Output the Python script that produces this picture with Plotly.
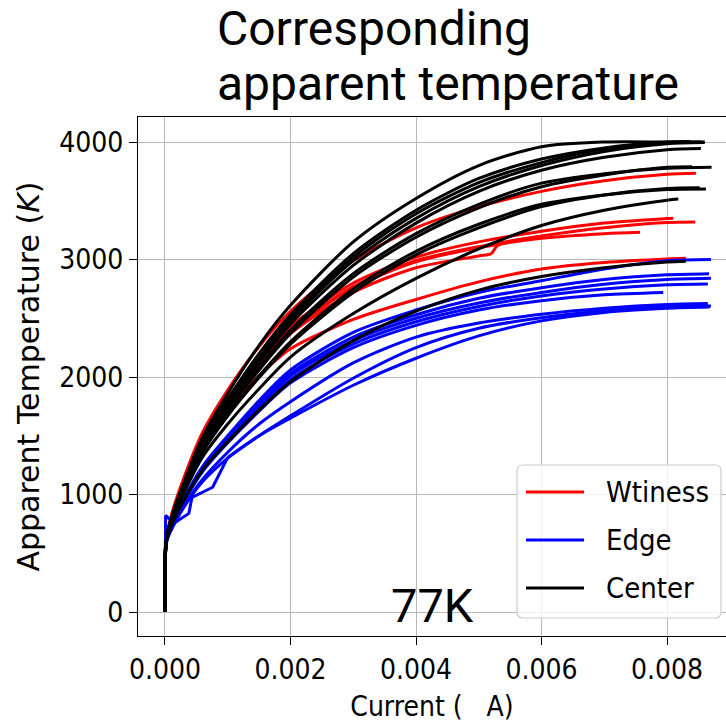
import plotly.graph_objects as go

# Shared current sampling (A); each curve continues with its own tail points
CURRENT_GRID = [0.0, 0.00002, 0.0001, 0.0003, 0.0006, 0.001, 0.0015, 0.002,
                0.003, 0.004, 0.005, 0.006, 0.007]

# Witness (red) curves: temperatures on CURRENT_GRID, then (current, temp) tails
WITNESS_TEMPS = [
    [0, 600, 820, 1140, 1530, 1890, 2260, 2560, 2990, 3270, 3450, 3580, 3670],
    [0, 610, 805, 1110, 1480, 1820, 2160, 2430, 2800, 3020, 3150, 3240, 3310],
    [0, 590, 800, 1100, 1470, 1800, 2140, 2400, 2770, 2990, 3110, 3200, 3270],
    [0, 600, 800, 1100, 1460, 1790, 2120, 2390, 2760, 2980, 3100, 3180, 3220],
    [0, 620, 790, 1080, 1420, 1720, 2010, 2240, 2490, 2660, 2810, 2920, 2975],
    [0, 600, 790, 1090, 1450, 1780, 2110, 2370, 2720, 2930, 3030],
]
WITNESS_TAILS = [
    [(0.008, 3725), (0.00846, 3735)],
    [(0.008, 3349), (0.0081, 3352)],
    [(0.008, 3315), (0.00845, 3320)],
    [(0.00757, 3232)],
    [(0.008, 3005), (0.0083, 3010)],
    [(0.0052, 3050), (0.0053, 3120), (0.006, 3195)],
]

# Edge (blue) curves
EDGE_TEMPS = [
    [0, 600, 720, 960, 1240, 1500, 1800, 2060, 2380, 2570, 2720, 2820, 2920],
    [0, 590, 715, 950, 1225, 1480, 1770, 2030, 2340, 2530, 2670, 2760, 2830],
    [0, 610, 715, 945, 1215, 1470, 1750, 2010, 2310, 2500, 2630, 2720, 2790],
    [0, 600, 710, 940, 1205, 1455, 1730, 1980, 2280, 2470, 2600, 2690, 2750],
    [0, 580, 710, 935, 1195, 1440, 1710, 1950, 2250, 2440, 2570, 2650, 2700],
    [0, 600, 700, 900, 1130, 1360, 1600, 1790, 2120, 2340, 2460, 2534, 2585],
    [0, 610, 700, 890, 1110, 1310, 1500, 1670, 1990, 2250, 2415, 2505, 2565],
]
EDGE_TAILS = [
    [(0.008, 2990), (0.0087, 3000)],
    [(0.008, 2870), (0.00867, 2880)],
    [(0.008, 2830), (0.0087, 2840)],
    [(0.008, 2785), (0.00865, 2792)],
    [(0.00794, 2720)],
    [(0.008, 2617), (0.00865, 2625)],
    [(0.008, 2600), (0.0087, 2605)],
]
# Edge run with a jumpy low-current start (straight segments), then smooth
EDGE_JUMPY_CURRENT = [0.0, 0.00001, 0.00014, 0.00038, 0.00043, 0.00076, 0.00084, 0.001]
EDGE_JUMPY_TEMP = [0, 822, 754, 839, 975, 1062, 1147, 1316]
EDGE_JUMPY_REST_CURRENT = [0.001, 0.0015, 0.002, 0.003, 0.004, 0.005, 0.006, 0.007, 0.008, 0.00868]
EDGE_JUMPY_REST_TEMP = [1316, 1500, 1650, 1930, 2160, 2350, 2478, 2550, 2585, 2595]

# Center (black) curves
CENTER_TEMPS = [
    [0, 600, 800, 1100, 1490, 1860, 2270, 2610, 3150, 3520, 3800, 3960, 4000],
    [0, 620, 795, 1085, 1460, 1810, 2200, 2530, 3050, 3420, 3690, 3855, 3950],
    [0, 590, 790, 1080, 1445, 1785, 2160, 2500, 3020, 3390, 3655, 3825, 3940],
    [0, 600, 790, 1075, 1440, 1780, 2150, 2480, 2990, 3350, 3620, 3800, 3920],
    [0, 610, 785, 1065, 1425, 1760, 2120, 2450, 2950, 3310, 3580, 3760, 3870],
    [0, 600, 780, 1060, 1400, 1730, 2080, 2400, 2880, 3220, 3470, 3650, 3730],
    [0, 590, 775, 1050, 1390, 1715, 2060, 2370, 2850, 3190, 3440, 3620, 3720],
    [0, 600, 770, 1040, 1370, 1680, 2010, 2300, 2750, 3070, 3300, 3470, 3550],
    [0, 610, 765, 1035, 1360, 1670, 1995, 2280, 2720, 3040, 3270, 3450, 3550],
    [0, 600, 755, 1010, 1320, 1600, 1900, 2170, 2540, 2840, 3090, 3290, 3420],
    [0, 590, 730, 950, 1210, 1450, 1720, 1960, 2310, 2560, 2740, 2855, 2930],
]
CENTER_TAILS = [
    [(0.008, 4000), (0.0086, 4000)],
    [(0.008, 4000), (0.00837, 4005)],
    [(0.008, 3995), (0.00855, 4000)],
    [(0.008, 3985), (0.0086, 3995)],
    [(0.008, 3935), (0.00854, 3945)],
    [(0.008, 3776), (0.00871, 3785)],
    [(0.008, 3785), (0.0084, 3790)],
    [(0.008, 3595), (0.00862, 3600)],
    [(0.008, 3605), (0.00852, 3610)],
    [(0.008, 3505), (0.00818, 3515)],
    [(0.008, 2978), (0.0083, 2985)],
]

X_TICKS = [0.0, 0.002, 0.004, 0.006, 0.008]
X_TICK_TEXT = ["0.000", "0.002", "0.004", "0.006", "0.008"]
Y_TICKS = [0, 1000, 2000, 3000, 4000]
Y_TICK_TEXT = ["0", "1000", "2000", "3000", "4000"]

LEGEND_NAMES = ["Wtiness", "Edge", "Center"]
COLORS = {"Wtiness": "#ff0000", "Edge": "#0000ff", "Center": "#000000"}

TICK_FONT = "DejaVu Sans Condensed, DejaVu Sans, sans-serif"
LINE_W = 3.0

fig = go.Figure()


def add_group(temps_list, tails_list, color):
    for temps, tail in zip(temps_list, tails_list):
        xs = CURRENT_GRID[:len(temps)] + [p[0] for p in tail]
        ys = list(temps) + [p[1] for p in tail]
        fig.add_trace(go.Scatter(
            x=xs, y=ys, mode="lines",
            line=dict(color=color, width=LINE_W, shape="spline", smoothing=0.8),
            showlegend=False, hoverinfo="skip"))


add_group(WITNESS_TEMPS, WITNESS_TAILS, COLORS["Wtiness"])
add_group(EDGE_TEMPS, EDGE_TAILS, COLORS["Edge"])
fig.add_trace(go.Scatter(x=EDGE_JUMPY_CURRENT, y=EDGE_JUMPY_TEMP, mode="lines",
                         line=dict(color=COLORS["Edge"], width=LINE_W),
                         showlegend=False, hoverinfo="skip"))
fig.add_trace(go.Scatter(x=EDGE_JUMPY_REST_CURRENT, y=EDGE_JUMPY_REST_TEMP, mode="lines",
                         line=dict(color=COLORS["Edge"], width=LINE_W, shape="spline", smoothing=0.8),
                         showlegend=False, hoverinfo="skip"))
add_group(CENTER_TEMPS, CENTER_TAILS, COLORS["Center"])

axis_common = dict(
    showgrid=True, gridcolor="#b8b8b8", gridwidth=1.2,
    showline=True, linecolor="black", linewidth=1.2,
    ticks="outside", ticklen=8, tickwidth=1.2, tickcolor="black",
    tickfont=dict(family=TICK_FONT, size=28, color="black"),
    zeroline=False,
)

fig.update_layout(
    width=726, height=723,
    margin=dict(l=138, r=0, t=117, b=87),
    plot_bgcolor="white", paper_bgcolor="white",
    showlegend=False,
    xaxis=dict(range=[-0.00043, 0.00894], tickvals=X_TICKS, ticktext=X_TICK_TEXT,
               mirror=True,
               title=dict(text="Current (\u00a0\u00a0\u00a0A)",
                          font=dict(family=TICK_FONT, size=28, color="black"),
                          standoff=12),
               **axis_common),
    yaxis=dict(range=[-204, 4213], tickvals=Y_TICKS, ticktext=Y_TICK_TEXT,
               title=dict(text="Apparent Temperature (<i>K</i>)",
                          font=dict(family="DejaVu Sans, sans-serif", size=30, color="black"),
                          standoff=10),
               **axis_common),
)

# Two-line title, left aligned
fig.add_annotation(text="Corresponding", xref="paper", yref="paper",
                   x=0.131, y=1.170, xanchor="left", yanchor="middle", showarrow=False,
                   font=dict(family="Roboto", size=48, color="black"))
fig.add_annotation(text="apparent temperature", xref="paper", yref="paper",
                   x=0.131, y=1.064, xanchor="left", yanchor="middle", showarrow=False,
                   font=dict(family="Roboto", size=48, color="black"))

# Bath temperature label
fig.add_annotation(text="77K", xref="paper", yref="paper",
                   x=0.5, y=0.058, xanchor="center", yanchor="middle", showarrow=False,
                   font=dict(family="Roboto", size=47, color="black"))

# Legend panel drawn in paper coordinates
PW, PH = 588.0, 519.0
lx0, lx1 = (517 - 138) / PW, (721 - 138) / PW
ly0, ly1 = (636 - 618) / PH, (636 - 465) / PH
rx, ry = 6 / PW, 6 / PH
path = (f"M {lx0+rx},{ly0} L {lx1-rx},{ly0} Q {lx1},{ly0} {lx1},{ly0+ry} "
        f"L {lx1},{ly1-ry} Q {lx1},{ly1} {lx1-rx},{ly1} "
        f"L {lx0+rx},{ly1} Q {lx0},{ly1} {lx0},{ly1-ry} "
        f"L {lx0},{ly0+ry} Q {lx0},{ly0} {lx0+rx},{ly0} Z")
fig.add_shape(type="path", path=path, xref="paper", yref="paper",
              fillcolor="rgba(255,255,255,0.8)", line=dict(color="#cccccc", width=1.2),
              layer="above")
for k, name in enumerate(LEGEND_NAMES):
    yy = (636 - (492 + 48 * k)) / PH
    fig.add_shape(type="line", xref="paper", yref="paper",
                  x0=(526 - 138) / PW, x1=(584 - 138) / PW, y0=yy, y1=yy,
                  line=dict(color=COLORS[name], width=LINE_W), layer="above")
    fig.add_annotation(text=name, xref="paper", yref="paper",
                       x=(604 - 138) / PW, y=yy, xanchor="left", yanchor="middle",
                       showarrow=False,
                       font=dict(family=TICK_FONT, size=29, color="black"))

fig.write_html("out.html")
